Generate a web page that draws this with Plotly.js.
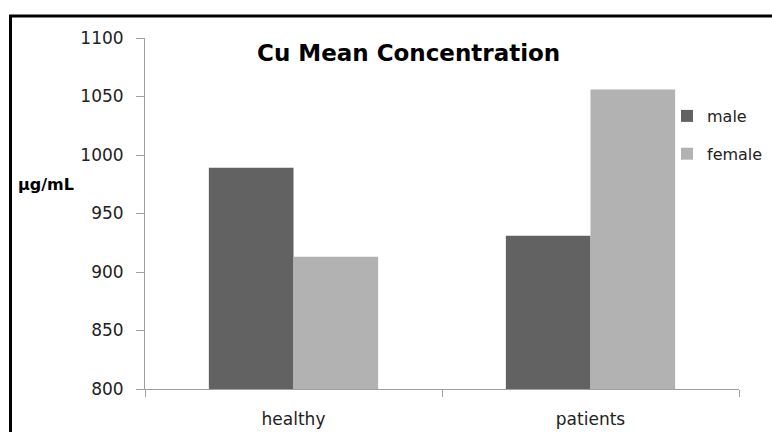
<!DOCTYPE html>
<html>
<head>
<meta charset="utf-8">
<script src="https://cdn.plot.ly/plotly-3.0.1.min.js"></script>
<style>
html,body{margin:0;padding:0;background:#fff;overflow:hidden;}
#chart{width:772px;height:432px;}
</style>
</head>
<body>
<div id="chart"></div>
<script>
const categories = ["healthy", "patients"];
const maleValues = [989, 931];
const femaleValues = [913, 1056];
const seriesNames = ["male", "female"];
const yTicks = [800, 850, 900, 950, 1000, 1050, 1100];

const W = 772, H = 432;
const L = 145, R = 33, T = 38, B = 43;
const pw = W - L - R, ph = H - T - B;
const px = x => (x - L) / pw;
const py = y => (H - B - y) / ph;

const font = "DejaVu Sans, sans-serif";

const traces = [
  {type: "bar", name: seriesNames[0], x: categories, y: maleValues,
   marker: {color: "#626262"}, legendgroup: "a", hoverinfo: "none"},
  {type: "bar", name: seriesNames[1], x: categories, y: femaleValues,
   marker: {color: "#b2b2b2"}, legendgroup: "b", hoverinfo: "none"}
];

const layout = {
  width: W, height: H,
  margin: {l: L, r: R, t: T, b: B, pad: 0, autoexpand: false},
  paper_bgcolor: "#fff", plot_bgcolor: "#fff",
  barmode: "group", bargap: 0.43, bargroupgap: 0,
  showlegend: true,
  legend: {x: px(667), y: py(99), xanchor: "left", yanchor: "top",
           font: {family: font, size: 16, color: "#222"},
           tracegroupgap: 14, traceorder: "grouped", bgcolor: "rgba(0,0,0,0)"},
  xaxis: {type: "category", showline: true, linecolor: "#a0a0a0", linewidth: 1,
          ticks: "outside", ticklen: 7, tickcolor: "#a0a0a0", tickson: "boundaries",
          showgrid: false, zeroline: false, ticklabelstandoff: 15,
          tickfont: {family: font, size: 17, color: "#222"}},
  yaxis: {range: [800, 1100], tickvals: yTicks, ticktext: yTicks.map(String),
          showline: true, linecolor: "#a0a0a0", linewidth: 1,
          ticks: "outside", ticklen: 8, tickcolor: "#a0a0a0",
          showgrid: false, zeroline: false, ticklabelstandoff: 9,
          tickfont: {family: font, size: 17, color: "#222"}},
  annotations: [
    {text: "<b>Cu Mean Concentration</b>", xref: "paper", yref: "paper",
     x: px(408), y: py(53), xanchor: "center", yanchor: "middle", showarrow: false,
     font: {family: font, size: 23, color: "#000"}},
    {text: "<b>µg/mL</b>", xref: "paper", yref: "paper",
     x: px(16), y: py(185), xanchor: "left", yanchor: "middle", showarrow: false,
     font: {family: font, size: 16, color: "#000"}}
  ],
  shapes: [
    {type: "rect", xref: "paper", yref: "paper",
     x0: px(10.5), x1: px(800), y0: py(460), y1: py(16),
     line: {color: "#000", width: 3}, fillcolor: "rgba(0,0,0,0)"}
  ]
};

Plotly.newPlot("chart", traces, layout, {displayModeBar: false, staticPlot: true});
</script>
</body>
</html>
